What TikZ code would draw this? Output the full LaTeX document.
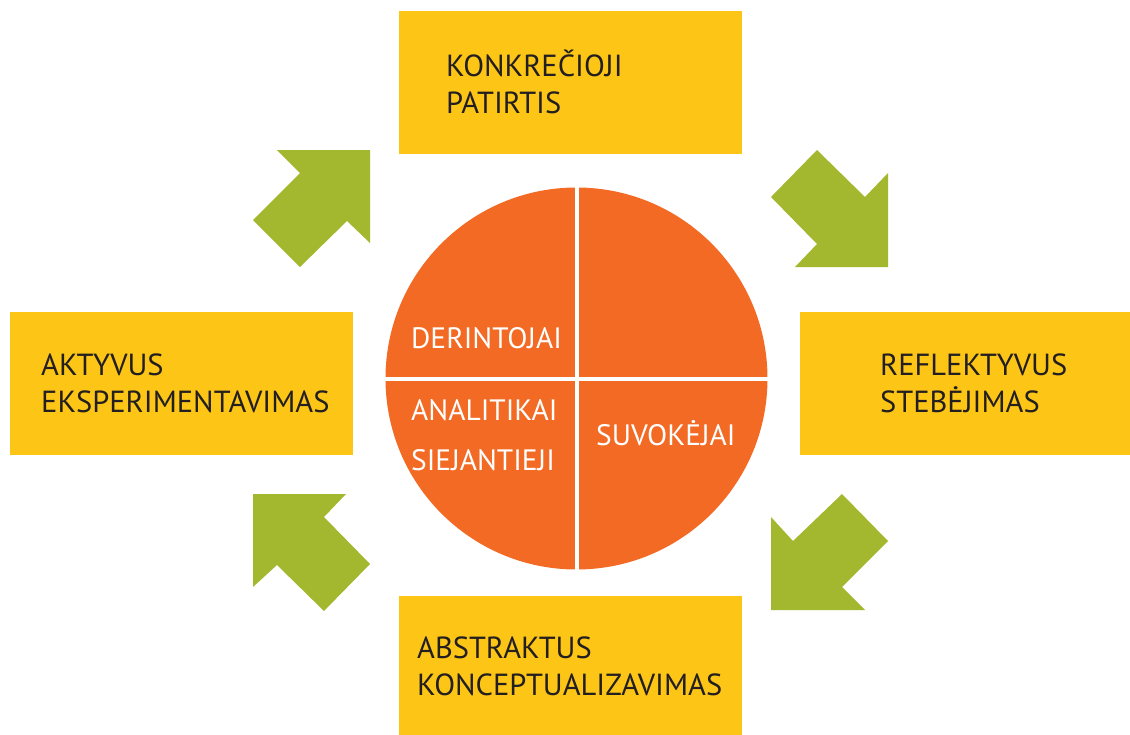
\documentclass[tikz,border=0pt]{standalone}
\usepackage{fontspec}
\setmainfont{PT Sans}
\usetikzlibrary{positioning}

\definecolor{boxyellow}{HTML}{FDC516}
\definecolor{arrowgreen}{HTML}{A3B82F}
\definecolor{pieorange}{HTML}{F26A24}
\definecolor{ink}{HTML}{231F20}

\tikzset{
	stage/.style={fill=boxyellow, inner sep=0, minimum width=343, minimum height=143},
	stagetext/.style={text=ink, inner sep=0, anchor=base west, align=left, font=\fontsize{30.5}{37}\selectfont},
	pietext/.style={text=white, inner sep=0, anchor=base west, align=left, font=\fontsize{29.5}{50}\selectfont},
	blockarrow/.style={fill=arrowgreen}
}

\begin{document}
\begin{tikzpicture}[x=1pt, y=-1pt]
			%%%%% START %%%%%
			\useasboundingbox (0, 0) rectangle (1130, 734);
			
			% the four stages
			\node[stage] (concrete) at (570.5, 82.5) {};
			\node[stage] (active) at (181.5, 383.5) {};
			\node[stage, minimum width=330] (reflect) at (965, 383.5) {};
			\node[stage, minimum height=140] (abstract) at (570.5, 666) {};
			
			% (base anchor sits on the last line)
			\node[stagetext] (concreteText) at (446, 113) {KONKREČIOJI\\PATIRTIS};
			\node[stagetext] (activeText) at (41, 412) {AKTYVUS\\EKSPERIMENTAVIMAS};
			\node[stagetext] (reflectText) at (880, 412) {REFLEKTYVUS\\STEBĖJIMAS};
			\node[stagetext] (abstractText) at (417, 695) {ABSTRAKTUS\\KONCEPTUALIZAVIMAS};
			
			% circle split in four
			\node[circle, fill=pieorange, inner sep=0, minimum size=382] (pie) at (576.5, 378.5) {};
			\draw[white, line width=4] (pie.north) -- (pie.south);
			\draw[white, line width=4] (pie.west) -- (pie.east);
			
			\node[pietext] (deriText) at (411, 348) {DERINTOJAI};
			\node[pietext] (analText) at (411, 470) {ANALITIKAI\\SIEJANTIEJI};
			\node[pietext] (suvoText) at (596, 445) {SUVOKĖJAI};
			
			% green arrows, clockwise
			\fill[blockarrow] (277, 150) -- (370, 150) -- (370, 243) -- (347, 221) -- (300, 267) -- (253, 220) -- (300, 173) -- cycle;
			\fill[blockarrow] (817, 150) -- (865, 197) -- (888, 173) -- (888, 267) -- (795, 267) -- (817, 244) -- (771, 197) -- cycle;
			\fill[blockarrow] (842, 494) -- (888, 541) -- (842, 587) -- (865, 610) -- (771, 610) -- (771, 517) -- (793, 541) -- cycle;
			\fill[blockarrow] (253, 494) -- (346, 494) -- (324, 517) -- (370, 564) -- (324, 611) -- (277, 565) -- (253, 587) -- cycle;
			
			%%%%% END %%%%%
\end{tikzpicture}
\end{document}
